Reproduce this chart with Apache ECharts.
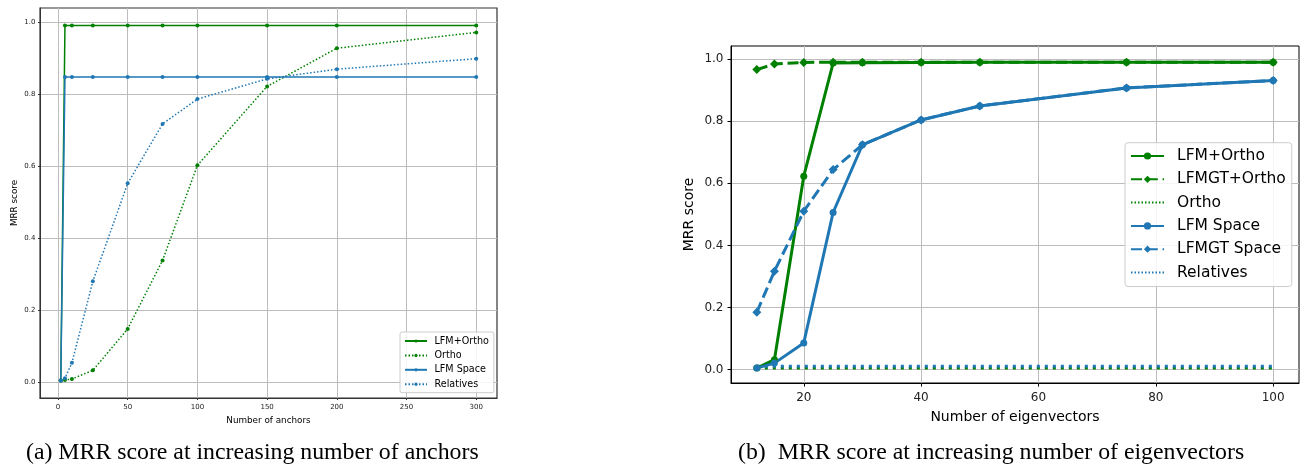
<!DOCTYPE html>
<html>
<head>
<meta charset="utf-8">
<style>
  html, body { margin: 0; padding: 0; background: #fff; }
  #chart { width: 1300px; height: 465px; }
</style>
<script src="https://cdn.jsdelivr.net/npm/echarts@6/dist/echarts.min.js"></script>
</head>
<body>
<div id="chart"></div>
<script>
// (a) number of anchors
const anchors = [2, 5, 10, 25, 50, 75, 100, 150, 200, 300];
const aLfmOrtho = [0.005, 0.99, 0.99, 0.99, 0.99, 0.99, 0.99, 0.99, 0.99, 0.99];
const aOrtho = [0.005, 0.006, 0.009, 0.033, 0.148, 0.338, 0.602, 0.821, 0.927, 0.971];
const aLfmSpace = [0.005, 0.847, 0.847, 0.847, 0.847, 0.847, 0.847, 0.847, 0.847, 0.847];
const aRelatives = [0.005, 0.011, 0.054, 0.28, 0.552, 0.717, 0.786, 0.842, 0.869, 0.898];

// (b) number of eigenvectors
const eigen = [12, 15, 20, 25, 30, 40, 50, 75, 100];
const bLfmOrtho = [0.005, 0.032, 0.623, 0.987, 0.988, 0.989, 0.99, 0.99, 0.99];
const bLfmgtOrtho = [0.966, 0.984, 0.989, 0.99, 0.99, 0.99, 0.99, 0.99, 0.99];
const bOrtho = [0.005, 0.005, 0.005, 0.005, 0.005, 0.005, 0.005, 0.005, 0.005];
const bLfmSpace = [0.005, 0.021, 0.086, 0.506, 0.724, 0.804, 0.849, 0.907, 0.931];
const bLfmgtSpace = [0.185, 0.317, 0.51, 0.644, 0.724, 0.804, 0.849, 0.907, 0.931];
const bRelatives = [0.011, 0.011, 0.011, 0.011, 0.011, 0.011, 0.011, 0.011, 0.011];

// tick labels
const aXTicks = [0, 50, 100, 150, 200, 250, 300];
const bXTicks = [20, 40, 60, 80, 100];
const yTicks = [0, 0.2, 0.4, 0.6, 0.8, 1.0];

const GREEN = '#008000';
const BLUE = '#1f77b4';
const FONT = 'DejaVu Sans';

const pairs = (xs, ys) => xs.map((x, i) => [x, ys[i]]);

// 公共坐标轴样式
const makeAxis = (opts) => {
  const { grid, ticks, min, max, fontSize, margin, name, nameGap, nameSize, tickLen, color, isY } = opts;
  return {
    type: 'value',
    gridIndex: grid,
    min, max,
    name,
    nameLocation: 'middle',
    nameGap,
    nameRotate: isY ? 90 : 0,
    nameTextStyle: { fontFamily: FONT, fontSize: nameSize, color: '#000' },
    axisLine: { show: true, onZero: false, lineStyle: { color, width: 1 } },
    axisTick: { show: true, length: tickLen, customValues: ticks, lineStyle: { color, width: 1 } },
    axisLabel: {
      customValues: ticks,
      margin,
      fontFamily: FONT,
      fontSize,
      color: '#222',
      formatter: v => (isY ? v.toFixed(1) : String(v))
    },
    splitLine: { show: true, lineStyle: { color: '#bdbdbd', width: 1 } }
  };
};

const lineSeries = (name, xi, data, color, opts) => ({
  name,
  type: 'line',
  xAxisIndex: xi,
  yAxisIndex: xi,
  data,
  symbol: opts.symbol || 'none',
  symbolSize: opts.size || 0,
  showSymbol: !!opts.symbol,
  itemStyle: { color },
  lineStyle: { color, width: opts.width, type: opts.dash || 'solid', cap: 'butt' },
  emphasis: { disabled: true },
  z: opts.z || 2
});

const chart = echarts.init(document.getElementById('chart'));

chart.setOption({
  animation: false,
  grid: [
    { left: 40, top: 8, width: 457, height: 390, show: true, borderColor: '#333', borderWidth: 1.2, backgroundColor: 'transparent' },
    { left: 731, top: 46, width: 568, height: 337, show: true, borderColor: '#000', borderWidth: 1, backgroundColor: 'transparent' }
  ],
  xAxis: [
    makeAxis({ grid: 0, ticks: aXTicks, min: -12.9, max: 314.9, fontSize: 7, margin: 6, name: 'Number of anchors', nameGap: 16, nameSize: 8.8, tickLen: 2, color: '#333' }),
    makeAxis({ grid: 1, ticks: bXTicks, min: 7.6, max: 104.4, fontSize: 12, margin: 9, name: 'Number of eigenvectors', nameGap: 27, nameSize: 14, tickLen: 3.5, color: '#000' })
  ],
  yAxis: [
    makeAxis({ grid: 0, ticks: yTicks, min: -0.0438, max: 1.0387, fontSize: 7, margin: 4.5, name: 'MRR score', nameGap: 21, nameSize: 8.8, tickLen: 2, color: '#333', isY: true }),
    makeAxis({ grid: 1, ticks: yTicks, min: -0.043, max: 1.042, fontSize: 12, margin: 7.5, name: 'MRR score', nameGap: 35, nameSize: 14, tickLen: 3.5, color: '#000', isY: true })
  ],
  legend: [
    {
      left: 400, top: 332,
      orient: 'vertical',
      data: ['LFM+Ortho', 'Ortho', 'LFM Space', 'Relatives'],
      itemWidth: 22, itemHeight: 4, itemGap: 3.4,
      padding: [3.5, 5, 3, 4],
      backgroundColor: 'rgba(255,255,255,0.85)',
      borderColor: '#cccccc', borderWidth: 1, borderRadius: 2,
      textStyle: { fontFamily: FONT, fontSize: 9.6, color: '#000', lineHeight: 11, padding: [0, 0, 0, 2.5] },
      selectedMode: false
    },
    {
      left: 1125, top: 142.7,
      orient: 'vertical',
      data: [
        'LFM+Ortho', 'LFMGT+Ortho',
        { name: 'Ortho', itemStyle: { opacity: 0 } },
        'LFM Space', 'LFMGT Space',
        { name: 'Relatives', itemStyle: { opacity: 0 } }
      ],
      itemWidth: 33, itemHeight: 9, itemGap: 5.3,
      padding: [4.3, 6, 5, 5],
      backgroundColor: 'rgba(255,255,255,0.85)',
      borderColor: '#cccccc', borderWidth: 1, borderRadius: 3,
      textStyle: { fontFamily: FONT, fontSize: 15.5, color: '#000', lineHeight: 18, padding: [0, 0, 0, 8] },
      selectedMode: false
    }
  ],
  series: [
    // (a)
    lineSeries('LFM+Ortho', 0, pairs(anchors, aLfmOrtho), GREEN, { symbol: 'circle', size: 4, width: 1.5 }),
    lineSeries('Ortho', 0, pairs(anchors, aOrtho), GREEN, { symbol: 'circle', size: 4, width: 1.5, dash: [1.5, 2] }),
    lineSeries('LFM Space', 0, pairs(anchors, aLfmSpace), BLUE, { symbol: 'circle', size: 4, width: 1.5 }),
    lineSeries('Relatives', 0, pairs(anchors, aRelatives), BLUE, { symbol: 'circle', size: 4, width: 1.5, dash: [1.5, 2] }),
    // (b)
    lineSeries('LFM+Ortho', 1, pairs(eigen, bLfmOrtho), GREEN, { symbol: 'circle', size: 7, width: 3 }),
    lineSeries('LFMGT+Ortho', 1, pairs(eigen, bLfmgtOrtho), GREEN, { symbol: 'diamond', size: 9, width: 3, dash: [11, 4.8] }),
    lineSeries('Ortho', 1, pairs(eigen, bOrtho), GREEN, { width: 3, dash: [3, 5] }),
    lineSeries('LFM Space', 1, pairs(eigen, bLfmSpace), BLUE, { symbol: 'circle', size: 7, width: 3 }),
    lineSeries('LFMGT Space', 1, pairs(eigen, bLfmgtSpace), BLUE, { symbol: 'diamond', size: 9, width: 3, dash: [11, 4.8] }),
    lineSeries('Relatives', 1, pairs(eigen, bRelatives), BLUE, { width: 3, dash: [3, 5] })
  ],
  graphic: [
    {
      type: 'text', left: 26, top: 441,
      style: { text: '(a) MRR score at increasing number of anchors', fontFamily: 'Liberation Serif', fontSize: 23.8, fill: '#000' }
    },
    {
      type: 'text', left: 738, top: 441,
      style: { text: '(b)  MRR score at increasing number of eigenvectors', fontFamily: 'Liberation Serif', fontSize: 23.8, fill: '#000' }
    }
  ]
});
</script>
</body>
</html>
